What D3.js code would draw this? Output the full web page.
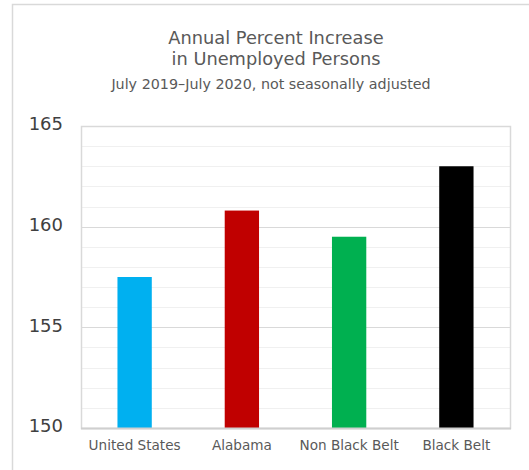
<!DOCTYPE html>
<html lang="en">
  <head>
    <meta charset="UTF-8" />
    <title>Annual Percent Increase in Unemployed Persons</title>
    <script src="https://cdn.jsdelivr.net/npm/d3@7"></script>
    <style>
      body { margin: 0; background: #fff; }
      text { font-family: 'DejaVu Sans', Verdana, sans-serif; }
    </style>
  </head>
  <body>
    <div id="chart"></div>
    <script>
      const categories = ['United States', 'Alabama', 'Non Black Belt', 'Black Belt']
      const values = [157.5, 160.8, 159.5, 163.0]
      const colors = ['#00b0f0', '#c00000', '#00b050', '#000000']
      const yTicks = [150, 155, 160, 165]

      const width = 529
      const height = 470
      const margin = { top: 126, right: 19, bottom: 42, left: 81 }
      const innerW = width - margin.left - margin.right
      const innerH = height - margin.top - margin.bottom

      const svg = d3.select('#chart')
        .append('svg')
        .attr('width', width)
        .attr('height', height)

      // outer frame
      svg.append('rect')
        .attr('x', 12.5).attr('y', 4.5)
        .attr('width', width).attr('height', height)
        .attr('fill', 'none')
        .attr('stroke', '#d9d9d9')
        .attr('stroke-width', 1.5)

      // titles
      const titles = svg.append('g').attr('text-anchor', 'middle').attr('fill', '#595959')
      titles.append('text').attr('x', 276).attr('y', 44).attr('font-size', 17.8).text('Annual Percent Increase')
      titles.append('text').attr('x', 276).attr('y', 65).attr('font-size', 17.8).text('in Unemployed Persons')
      titles.append('text').attr('x', 271).attr('y', 89).attr('font-size', 14.3).text('July 2019–July 2020, not seasonally adjusted')

      const g = svg.append('g').attr('transform', `translate(${margin.left},${margin.top})`)

      const x = d3.scaleBand().domain(categories).range([0, innerW]).paddingInner(0.68).paddingOuter(0.34)
      const y = d3.scaleLinear().domain([150, 165]).range([innerH, 0])

      // minor gridlines
      g.append('g')
        .selectAll('line')
        .data(d3.range(151, 165).filter(v => v % 5 !== 0))
        .join('line')
        .attr('x1', 0).attr('x2', innerW)
        .attr('y1', d => Math.round(y(d)) + 0.5).attr('y2', d => Math.round(y(d)) + 0.5)
        .attr('stroke', '#f0f0f0')

      // major gridlines
      g.append('g')
        .selectAll('line')
        .data(yTicks.slice(1, -1))
        .join('line')
        .attr('x1', 0).attr('x2', innerW)
        .attr('y1', d => Math.round(y(d)) + 0.5).attr('y2', d => Math.round(y(d)) + 0.5)
        .attr('stroke', '#d9d9d9')

      // plot border
      g.append('rect')
        .attr('x', 0.5).attr('y', 0.5)
        .attr('width', innerW).attr('height', innerH)
        .attr('fill', 'none')
        .attr('stroke', '#d9d9d9')
        .attr('stroke-width', 1.5)

      // bars
      g.selectAll('.bar')
        .data(values)
        .join('rect')
        .attr('class', 'bar')
        .attr('x', (d, i) => x(categories[i]))
        .attr('width', x.bandwidth())
        .attr('y', d => y(d))
        .attr('height', d => innerH - y(d))
        .attr('fill', (d, i) => colors[i])

      // bottom axis line
      g.append('line')
        .attr('x1', 0).attr('x2', innerW + 1)
        .attr('y1', innerH + 0.5).attr('y2', innerH + 0.5)
        .attr('stroke', '#cfcfcf')
        .attr('stroke-width', 2)

      // y axis labels
      const yAxis = g.append('g')
        .call(d3.axisLeft(y).tickValues(yTicks).tickSize(0).tickPadding(18))
      yAxis.select('.domain').remove()
      yAxis.selectAll('text')
        .attr('font-size', 18)
        .attr('fill', '#404040')
        .attr('dy', '0.22em')
        .style('font-family', "'DejaVu Sans', Verdana, sans-serif")

      // x axis labels
      const xAxis = g.append('g')
        .attr('transform', `translate(0,${innerH})`)
        .call(d3.axisBottom(x).tickSize(0).tickPadding(12))
      xAxis.select('.domain').remove()
      xAxis.selectAll('text')
        .attr('font-size', 13.6)
        .attr('fill', '#595959')
        .style('font-family', "'DejaVu Sans', Verdana, sans-serif")
    </script>
  </body>
</html>
